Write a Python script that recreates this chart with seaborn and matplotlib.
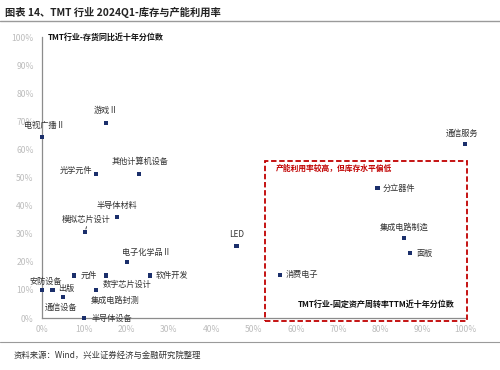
import matplotlib
matplotlib.use("Agg")
import matplotlib.pyplot as plt
import seaborn as sns
import pandas as pd
from matplotlib.patches import Rectangle
from matplotlib.lines import Line2D

sns.set_theme(style="white")
plt.rcParams['font.family'] = ['Noto Sans CJK SC', 'DejaVu Sans']
plt.rcParams['axes.unicode_minus'] = False

industries = ["电视广播Ⅱ", "游戏Ⅱ", "光学元件", "其他计算机设备", "半导体材料", "模拟芯片设计",
              "LED", "电子化学品Ⅱ", "元件", "数字芯片设计", "软件开发", "安防设备", "出版",
              "集成电路封测", "通信设备", "半导体设备", "通信服务", "分立器件", "集成电路制造",
              "面板", "消费电子"]
capacity_pct = [0.0, 15.2, 12.8, 23.0, 17.8, 10.2, 46.0, 20.0, 7.5, 15.2, 25.6, 0.0, 2.5,
                12.8, 5.0, 10.0, 100.0, 79.3, 85.5, 87.0, 56.3]
inventory_pct = [64.4, 69.5, 51.3, 51.3, 35.8, 30.7, 25.5, 20.0, 15.1, 15.1, 15.1, 10.0, 10.0,
                 10.0, 7.4, 0.0, 61.8, 46.2, 28.5, 23.0, 15.3]
x_ticks = [0, 10, 20, 30, 40, 50, 60, 70, 80, 90, 100]
y_ticks = [0, 10, 20, 30, 40, 50, 60, 70, 80, 90, 100]

# label placement: (dx px, dy px, ha, va)
label_pos = {
    "电视广播Ⅱ": (2, 12, "center", "center"),
    "游戏Ⅱ": (0, 12, "center", "center"),
    "光学元件": (-4, 3, "right", "center"),
    "其他计算机设备": (1, 12, "center", "center"),
    "半导体材料": (0, 12, "center", "center"),
    "模拟芯片设计": (1, 12, "center", "center"),
    "LED": (0, 12, "center", "center"),
    "电子化学品Ⅱ": (-5, 9, "left", "center"),
    "元件": (7, 0, "left", "center"),
    "数字芯片设计": (-4, -9, "left", "center"),
    "软件开发": (5, 0, "left", "center"),
    "安防设备": (4, 9, "center", "center"),
    "出版": (6, 1, "left", "center"),
    "集成电路封测": (-5, -10, "left", "center"),
    "通信设备": (-2, -10, "center", "center"),
    "半导体设备": (7, 0, "left", "center"),
    "通信服务": (-3, 11, "center", "center"),
    "分立器件": (5, 0, "left", "center"),
    "集成电路制造": (0, 11, "center", "center"),
    "面板": (6, 0, "left", "center"),
    "消费电子": (6, 1, "left", "center"),
}

df = pd.DataFrame({"industry": industries, "x": capacity_pct, "y": inventory_pct})

fig = plt.figure(figsize=(5, 3.7), dpi=100)
ax = fig.add_axes([0.084, 0.1405, 0.846, 0.7595])

sns.scatterplot(data=df, x="x", y="y", ax=ax, marker="s", s=9, color="#1B2F6B",
                edgecolor="none", zorder=4, clip_on=False)

ax.set_xlim(0, 100)
ax.set_ylim(0, 100)
ax.set_xticks(x_ticks)
ax.set_yticks(y_ticks)
ax.set_xticklabels([f"{t}%" for t in x_ticks])
ax.set_yticklabels([f"{t}%" for t in y_ticks])
ax.tick_params(axis="both", length=0, labelsize=6.2, labelcolor="#BDBDBD")
ax.tick_params(axis="x", pad=5)
ax.tick_params(axis="y", pad=6)
ax.set_xlabel("")
ax.set_ylabel("")
for s in ["top", "right"]:
    ax.spines[s].set_visible(False)
for s in ["left", "bottom"]:
    ax.spines[s].set_color("#8C8C8C")
    ax.spines[s].set_linewidth(0.9)

for name, xv, yv in zip(industries, capacity_pct, inventory_pct):
    dx, dy, ha, va = label_pos[name]
    ax.annotate(name, (xv, yv), xytext=(dx, dy), textcoords="offset pixels",
                ha=ha, va=va, fontsize=5.9, color="#333333", zorder=5)

# leader tick for 模拟芯片设计
ax.annotate("", (10.2, 30.7), xytext=(10.7, 33.5),
            arrowprops=dict(arrowstyle="-", color="#333333", lw=0.6))

# red dashed box
box = Rectangle((52.7, -1.0), 47.8, 56.7, fill=False, edgecolor="#C00000",
                linestyle=(0, (3, 1.5)), linewidth=1.3, clip_on=False, zorder=3)
ax.add_patch(box)
ax.text(55.2, 53.3, "产能利用率较高，但库存水平偏低", fontsize=5.6, fontweight="bold",
        color="#C00000", ha="left", va="center")

ax.text(1.4, 100, "TMT行业-存货同比近十年分位数", fontsize=5.8, fontweight="bold",
        color="#111111", ha="left", va="center")
ax.text(97.5, 4.8, "TMT行业-固定资产周转率TTM近十年分位数", fontsize=5.8, fontweight="bold",
        color="#111111", ha="right", va="center")

# title and footer
fig.text(0.01, 1 - 12 / 370, "图表 14、TMT 行业 2024Q1-库存与产能利用率", fontsize=7.4,
         fontweight="bold", color="#222222", ha="left", va="center")
fig.add_artist(Line2D([0, 1], [1 - 21 / 370, 1 - 21 / 370], color="#9A9A9A", lw=1.0))
fig.add_artist(Line2D([0, 1], [1 - 342 / 370, 1 - 342 / 370], color="#9A9A9A", lw=0.8))
fig.text(0.028, 1 - 355 / 370, "资料来源：Wind，兴业证券经济与金融研究院整理", fontsize=6,
         color="#333333", ha="left", va="center")

fig.savefig("out.png", dpi=100)
